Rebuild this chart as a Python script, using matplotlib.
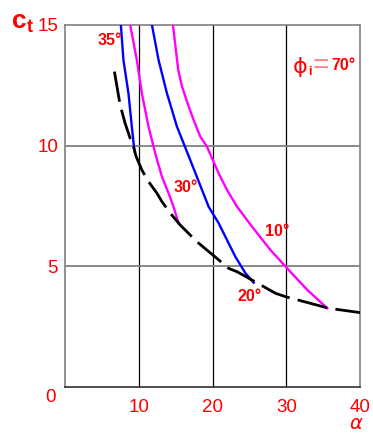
import matplotlib
matplotlib.use("Agg")
import matplotlib.pyplot as plt

plt.rcParams['font.family'] = ['Liberation Sans', 'DejaVu Sans']

# curves (alpha, c_t)
env_x = [6.70, 7.24, 7.47, 8.15, 8.83, 9.42, 9.61, 10.42, 11.32, 12.46, 13.14, 14.27, 15.63,
         17.89, 20.8, 22.19, 23.33, 25.8, 28.53, 29.89, 35.77, 40.0]
env_y = [13.06, 12.09, 11.68, 10.92, 10.30, 9.82, 9.57, 8.99, 8.51, 8.03, 7.68, 7.20, 6.71,
         6.02, 5.28, 4.92, 4.78, 4.36, 3.89, 3.75, 3.27, 3.09]

b35_x = [7.57, 7.92, 8.6, 9.06, 9.42]
b35_y = [15.0, 13.54, 12.16, 10.78, 9.75]

m30_x = [8.83, 9.74, 10.42, 11.32, 12.23, 13.14, 14.04, 14.71, 15.39]
m30_y = [15.0, 13.54, 12.16, 10.78, 9.68, 8.71, 8.03, 7.47, 6.79]

b20_x = [11.78, 12.68, 13.82, 15.18, 16.98, 17.69, 19.47, 20.83, 21.97, 23.10, 24.46, 25.58]
b20_y = [15.0, 13.54, 12.16, 10.78, 9.40, 8.85, 7.47, 6.79, 6.09, 5.40, 4.72, 4.33]

m10_x = [14.63, 15.08, 15.35, 15.86, 16.62, 17.43, 18.34, 19.25, 20.83, 21.97, 23.33, 25.37,
         27.85, 30.34, 32.84, 35.56]
m10_y = [15.0, 13.82, 13.13, 12.44, 11.75, 11.06, 10.37, 9.95, 8.85, 8.16, 7.47, 6.64,
         5.68, 4.85, 4.03, 3.27]

labels = ['35°', '30°', '20°', '10°']
label_x = [6.1, 16.4, 25.0, 28.7]
label_y = [14.35, 8.26, 3.75, 6.44]

xticks = [10, 20, 30, 40]
yticks = [5, 10, 15]

red = '#ff0000'

fig = plt.figure(figsize=(3.73, 4.33), dpi=100)
ax = fig.add_axes([0.1743, 0.1055, 0.791, 0.8375])
ax.set_xlim(0, 40)
ax.set_ylim(0, 15)

for x in xticks[:-1]:
    ax.axvline(x, color='black', lw=0.9, zorder=1)
for y in yticks[:-1]:
    ax.axhline(y, color='#808080', lw=1.3, zorder=1)

ax.plot(b35_x, b35_y, color='#0000ff', lw=1.7, zorder=3, solid_joinstyle='round')
ax.plot(m30_x, m30_y, color='#ff00ff', lw=1.7, zorder=3, solid_joinstyle='round')
ax.plot(b20_x, b20_y, color='#0000ff', lw=1.7, zorder=3, solid_joinstyle='round')
ax.plot(m10_x, m10_y, color='#ff00ff', lw=1.7, zorder=3, solid_joinstyle='round')
ax.plot(env_x, env_y, color='black', lw=2.0, dashes=(11, 3), zorder=4)

for t, x, y in zip(labels, label_x, label_y):
    ax.text(x, y, t, color=red, fontsize=11.5, fontweight='bold', ha='center', va='center')

# phi_i = 70 deg, placed in figure pixels
W, H = 373.0, 433.0
fig.text(300 / W, 1 - 67 / H, 'ϕ', color=red, fontsize=16, ha='center', va='center', family='DejaVu Sans')
fig.text(310 / W, 1 - 72 / H, 'i', color=red, fontsize=9, fontweight='bold', ha='center', va='center')
fig.text(321 / W, 1 - 66 / H, '=', color='#ff8080', fontsize=20, ha='center', va='center')
fig.text(331 / W, 1 - 65 / H, '70°', color=red, fontsize=11.5, fontweight='bold', ha='left', va='center')

for s in ['left', 'top', 'right']:
    ax.spines[s].set_color('#808080')
    ax.spines[s].set_linewidth(1.2)
ax.spines['bottom'].set_color('#303030')
ax.spines['bottom'].set_linewidth(1.2)

ax.set_xticks(xticks)
ax.set_yticks(yticks)
ax.tick_params(length=0, labelcolor=red, labelsize=13.5)
ax.tick_params(axis='x', pad=8.5)
ax.tick_params(axis='y', pad=5)

fig.text(50 / W, 1 - 397 / H, '0', color=red, fontsize=13.5, ha='center', va='center')
fig.text(12 / W, 1 - 21 / H, 'c', color=red, fontsize=19, fontweight='bold', ha='left', va='center')
fig.text(27 / W, 1 - 28 / H, 't', color=red, fontsize=13, fontweight='bold', ha='left', va='center')
fig.text(356 / W, 1 - 433 / H, 'α', color=red, fontsize=14, ha='center', va='bottom',
         family='DejaVu Sans', style='italic')

fig.savefig('out.png', dpi=100)
